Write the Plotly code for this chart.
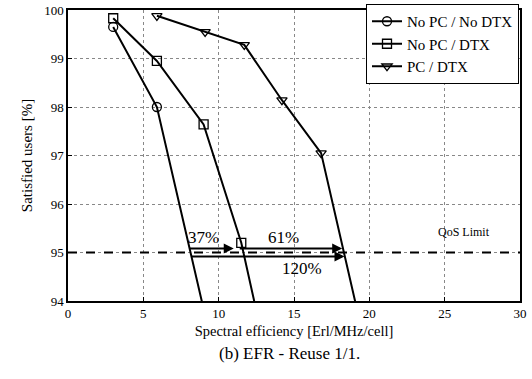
import plotly.graph_objects as go

# Data
x_nopc_nodtx = [3.0, 5.9, 9.1]
y_nopc_nodtx = [99.65, 98.0, 93.7]

x_nopc_dtx = [3.0, 5.9, 9.0, 11.5, 12.5]
y_nopc_dtx = [99.83, 98.95, 97.64, 95.2, 93.8]

x_pc_dtx = [5.9, 9.1, 11.7, 14.2, 16.8, 19.2]
y_pc_dtx = [99.88, 99.55, 99.28, 98.14, 97.05, 93.8]

qos_limit = 95.0
x_range = [0, 30]
y_range = [94, 100]
x_ticks = [0, 5, 10, 15, 20, 25, 30]
y_ticks = [94, 95, 96, 97, 98, 99, 100]

# Gain arrows
arrow_starts = [8.0, 11.3, 8.1]
arrow_ends = [11.0, 18.2, 18.35]
arrow_ys = [95.08, 95.08, 94.92]
gain_labels = ["37%", "61%", "120%"]
gain_label_x = [9.0, 14.3, 15.5]
gain_label_y = [95.3, 95.3, 94.68]

FONT = "Liberation Serif"

fig = go.Figure()

fig.add_trace(go.Scatter(x=x_range, y=[qos_limit, qos_limit], mode="lines",
                         line=dict(color="black", width=2, dash="dash"),
                         showlegend=False, hoverinfo="skip"))

for xs, ys, name, sym in [
    (x_nopc_nodtx, y_nopc_nodtx, "No PC / No DTX", "circle-open"),
    (x_nopc_dtx, y_nopc_dtx, "No PC / DTX", "square-open"),
    (x_pc_dtx, y_pc_dtx, "PC / DTX", "triangle-down-open"),
]:
    fig.add_trace(go.Scatter(x=xs, y=ys, mode="lines+markers", name=name,
                             line=dict(color="black", width=2),
                             marker=dict(symbol=sym, size=9, color="black",
                                         line=dict(width=1.3, color="black")),
                             cliponaxis=True))

for xs0, xs1, yy in zip(arrow_starts, arrow_ends, arrow_ys):
    fig.add_annotation(x=xs1, y=yy, ax=xs0, ay=yy, xref="x", yref="y",
                       axref="x", ayref="y", showarrow=True, arrowhead=2,
                       arrowsize=1.0, arrowwidth=2, arrowcolor="black", text="")

for lab, lx, ly in zip(gain_labels, gain_label_x, gain_label_y):
    fig.add_annotation(x=lx, y=ly, text=lab, showarrow=False,
                       font=dict(family=FONT, size=17, color="black"))

fig.add_annotation(x=26.3, y=95.42, text="QoS Limit", showarrow=False,
                   font=dict(family=FONT, size=12, color="black"))

fig.add_annotation(x=0.491, y=-0.179, xref="paper", yref="paper",
                   xanchor="center", yanchor="middle",
                   text="(b) EFR - Reuse 1/1.", showarrow=False,
                   font=dict(family=FONT, size=17, color="black"))

axis_common = dict(showline=True, linecolor="black", linewidth=1.5, mirror=True,
                   ticks="inside", ticklen=4, tickcolor="black",
                   showgrid=True, gridcolor="#888", griddash="dot", gridwidth=1,
                   zeroline=False, tickfont=dict(family=FONT, size=13, color="black"))

fig.update_xaxes(range=x_range, tickvals=x_ticks, **axis_common,
                 title=dict(text="Spectral efficiency [Erl/MHz/cell]", standoff=6,
                            font=dict(family=FONT, size=14.5, color="black")))
fig.update_yaxes(range=y_range, tickvals=y_ticks, **axis_common,
                 title=dict(text="Satisfied users [%]", standoff=8,
                            font=dict(family=FONT, size=15, color="black")))

fig.update_layout(
    width=532, height=379,
    margin=dict(l=68, r=12, t=10, b=78, autoexpand=False),
    plot_bgcolor="white", paper_bgcolor="white",
    legend=dict(x=519 / 532, y=1 - 4 / 379, xref="container", yref="container",
                xanchor="right", yanchor="top",
                bgcolor="white", bordercolor="black", borderwidth=1,
                font=dict(family=FONT, size=15, color="black"),
                tracegroupgap=0, itemwidth=30),
)

fig.write_html("out.html", config={"displayModeBar": False},
               post_script="document.body.style.margin='0';")
